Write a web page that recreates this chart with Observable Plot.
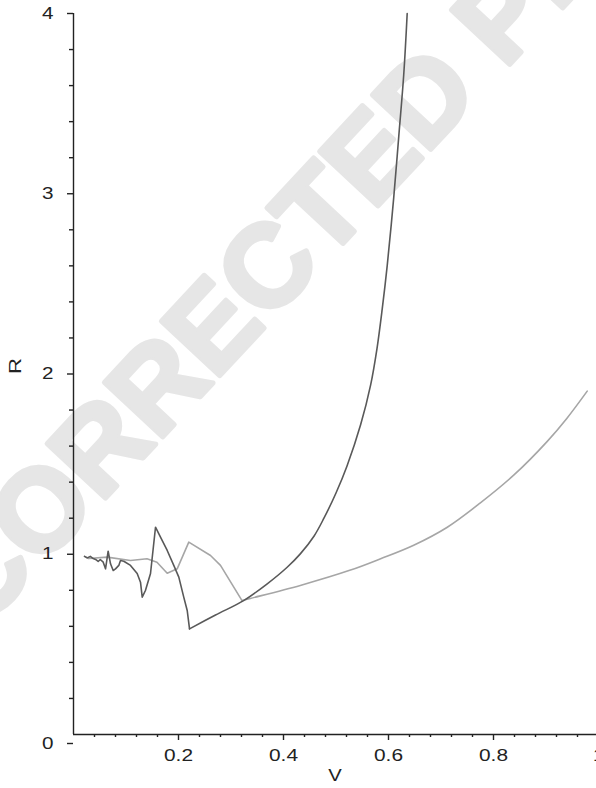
<!DOCTYPE html>
<html>
<head>
<meta charset="utf-8">
<script src="https://cdn.jsdelivr.net/npm/d3@7"></script>
<script src="https://cdn.jsdelivr.net/npm/@observablehq/plot@0.6"></script>
<style>
  html, body { margin: 0; padding: 0; background: #fff; }
</style>
</head>
<body>
<div id="chart"></div>
<script>
// Ratio R against V for the two runs (dark and light curves)
const darkV = [0.021, 0.026, 0.032, 0.0375, 0.042, 0.047, 0.051, 0.0566, 0.061, 0.066, 0.0705, 0.0756, 0.080, 0.0863, 0.0895, 0.0958, 0.1086, 0.1213, 0.1276, 0.1309, 0.137, 0.1467, 0.1562, 0.1657, 0.1785, 0.191, 0.2006, 0.210, 0.2166, 0.221, 0.2705, 0.324, 0.369, 0.407, 0.432, 0.458, 0.477, 0.500, 0.521, 0.547, 0.566, 0.578, 0.588, 0.5975, 0.610, 0.6196, 0.629, 0.6356];
const darkR = [0.988, 0.980, 0.988, 0.976, 0.971, 0.960, 0.971, 0.956, 0.919, 1.017, 0.947, 0.910, 0.919, 0.938, 0.965, 0.961, 0.938, 0.893, 0.845, 0.762, 0.799, 0.893, 1.150, 1.095, 1.021, 0.938, 0.873, 0.762, 0.688, 0.586, 0.663, 0.743, 0.836, 0.928, 1.002, 1.100, 1.200, 1.340, 1.490, 1.720, 1.940, 2.140, 2.360, 2.600, 2.980, 3.320, 3.660, 4.0];
// index where the dark run stops oscillating and turns into a smooth rise
const darkSmoothFrom = 29;

const lightV = [0.021, 0.029, 0.064, 0.1086, 0.140, 0.159, 0.1785, 0.1975, 0.2196, 0.261, 0.280, 0.321, 0.337, 0.432, 0.5276, 0.585, 0.648, 0.712, 0.775, 0.839, 0.902, 0.940, 0.9785];
const lightR = [0.988, 0.976, 0.984, 0.965, 0.975, 0.956, 0.895, 0.919, 1.067, 0.993, 0.938, 0.743, 0.755, 0.827, 0.912, 0.975, 1.050, 1.150, 1.285, 1.440, 1.625, 1.755, 1.905];
const lightSmoothFrom = 11;

// Axis ticks and labels
const xMajorTicks = [0.2, 0.4, 0.6, 0.8, 1.0];
const xTickLabels = ["0.2", "0.4", "0.6", "0.8", "1"];
const xMinorTicks = d3.range(1, 25).map(i => i * 0.04).filter(v => Math.abs(v / 0.2 - Math.round(v / 0.2)) > 1e-6);
const yMajorTicks = [1, 2, 3, 4];
const yMinorTicks = d3.range(1, 20).map(i => i * 0.2).filter(v => Math.abs(v - Math.round(v)) > 1e-6);
const xLabel = "V";
const yLabel = "R";
const stamp = "CORRECTED PROOF";

const dark = darkV.map((v, i) => ({V: v, R: darkR[i]}));
const light = lightV.map((v, i) => ({V: v, R: lightR[i]}));

const ink = "#222";
const axisStroke = {stroke: ink, strokeWidth: 1.4};
const stampGray = "#e6e6e6";

const chart = Plot.plot({
  width: 596,
  height: 788,
  marginLeft: 73,
  marginRight: 0,
  marginTop: 13,
  marginBottom: 54,
  style: {fontFamily: "'Liberation Sans', Arial, Helvetica, sans-serif", fontSize: "16px", color: ink, background: "#fff"},
  x: {domain: [0, 1], range: [73, 598]},
  y: {domain: [0, 4]},
  marks: [
    // pale heavy stamp behind everything
    Plot.text([stamp], {frameAnchor: "top-left", textAnchor: "middle", dx: 250, dy: 130, rotate: -47, fontSize: 116, fontWeight: "bold", fill: stampGray, stroke: stampGray, strokeWidth: 5, text: d => d}),
    // axis lines
    Plot.ruleX([0], axisStroke),
    Plot.ruleY([0], axisStroke),
    // x axis
    Plot.axisX(xMajorTicks, {tickSize: 6, tickPadding: 9, tickFormat: (d, i) => xTickLabels[i], ...axisStroke, fill: ink, label: null}),
    Plot.axisX(xMinorTicks, {tickSize: 3, tickFormat: () => "", ...axisStroke, label: null}),
    // y axis
    Plot.axisY(yMajorTicks, {tickSize: 6, tickPadding: 14, tickFormat: d => String(d), ...axisStroke, fill: ink, label: null}),
    Plot.axisY([0], {tickSize: 6, tickPadding: 14, dy: 9, tickFormat: d => String(d), ...axisStroke, fill: ink, label: null}),
    Plot.axisY(yMinorTicks, {tickSize: 4, tickFormat: () => "", ...axisStroke, label: null}),
    // axis titles
    Plot.text([xLabel], {frameAnchor: "bottom", dy: 46, text: d => d, fill: ink, fontSize: 16}),
    Plot.text([yLabel], {frameAnchor: "left", dx: -58, rotate: -90, text: d => d, fill: ink, fontSize: 16}),
    // light run: jagged start, then a smooth rise
    Plot.line(light.slice(0, lightSmoothFrom + 1), {x: "V", y: "R", stroke: "#a6a6a6", strokeWidth: 1.6}),
    Plot.line(light.slice(lightSmoothFrom), {x: "V", y: "R", stroke: "#a6a6a6", strokeWidth: 1.6, curve: "catmull-rom"}),
    // dark run: jagged start, then a smooth rise
    Plot.line(dark.slice(0, darkSmoothFrom + 1), {x: "V", y: "R", stroke: "#595959", strokeWidth: 1.6}),
    Plot.line(dark.slice(darkSmoothFrom), {x: "V", y: "R", stroke: "#595959", strokeWidth: 1.6, curve: "catmull-rom"})
  ]
});

// The labels in this figure use a wide-set face: stretch the glyphs horizontally.
const svg = d3.select(chart);
svg.selectAll('g[aria-label="x-axis tick label"] text').each(function () {
  const t = d3.select(this);
  const n = t.text().length;
  t.attr("textLength", n > 1 ? 29 : 11).attr("lengthAdjust", "spacingAndGlyphs");
});
svg.selectAll('g[aria-label="y-axis tick label"] text')
  .attr("textLength", 11.5).attr("lengthAdjust", "spacingAndGlyphs");
svg.selectAll("text").filter(function () { return this.textContent === xLabel; })
  .attr("textLength", 13.5).attr("lengthAdjust", "spacingAndGlyphs");
svg.selectAll("text").filter(function () { return this.textContent === yLabel; })
  .attr("textLength", 16).attr("lengthAdjust", "spacingAndGlyphs");

document.getElementById("chart").appendChild(chart);
</script>
</body>
</html>
